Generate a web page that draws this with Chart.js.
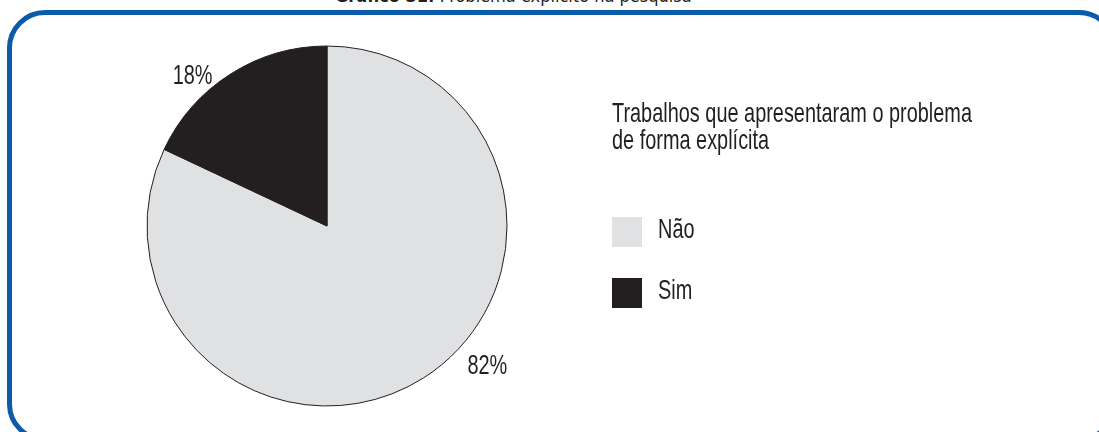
<!DOCTYPE html>
<html lang="pt-BR">
<head>
<meta charset="utf-8">
<title>Gráfico 31: Problema explícito na pesquisa</title>
<script src="https://cdn.jsdelivr.net/npm/chart.js@4/dist/chart.umd.min.js"></script>
<style>
  html, body { margin: 0; padding: 0; background: #fff; overflow: hidden; }
  body { width: 1099px; height: 432px; position: relative; font-family: "Liberation Sans", Arial, sans-serif; color: #231f20; }
  #titulo { position: absolute; left: 335px; top: -13px; font-size: 18px; line-height: 18px; white-space: nowrap; font-family: "DejaVu Sans Condensed", sans-serif; }
  #titulo b { font-weight: bold; }
  #moldura { position: absolute; left: 7px; top: 10px; width: 1100px; height: 422px; border: 5px solid #0b5ba8; border-radius: 38px; }
  #wrap { position: absolute; left: 0; top: 0; width: 1099px; height: 432px; }
</style>
</head>
<body>
<div id="titulo"><b>Gráfico 31:</b> Problema explícito na pesquisa</div>
<div id="moldura"></div>
<div id="wrap"><canvas id="grafico"></canvas></div>
<script>
// dados
const categorias = ["Não", "Sim"];
const valores = [82, 18];
const cores = ["#e0e1e3", "#231f20"];
const tituloLegenda = ["Trabalhos que apresentaram o problema", "de forma explícita"];

const fonte = '28px "Liberation Sans", Arial, sans-serif';
let escala = 0.72; // letra condensada: largura ajustada depois de medir

// escreve texto estreito (escala só na horizontal)
function texto(ctx, t, x, y, align) {
  ctx.save();
  ctx.translate(x, y);
  ctx.scale(escala, 1);
  ctx.textAlign = align || "left";
  ctx.fillText(t, 0, 0);
  ctx.restore();
}

// rótulos de porcentagem fora da pizza
const rotulos = {
  id: "rotulos",
  afterDatasetsDraw(chart) {
    const ctx = chart.ctx;
    const meta = chart.getDatasetMeta(0);
    ctx.save();
    ctx.font = fonte;
    ctx.fillStyle = "#231f20";
    ctx.textBaseline = "alphabetic";
    meta.data.forEach((arc, i) => {
      const ang = (arc.startAngle + arc.endAngle) / 2 - 13 * Math.PI / 180;
      const r = arc.outerRadius + 27;
      const px = arc.x + Math.cos(ang) * r + 13;
      const py = arc.y + Math.sin(ang) * r - 7;
      texto(ctx, valores[i] + "%", px, py + 10, "center");
    });
    ctx.restore();
  }
};

// legenda desenhada à direita
const legenda = {
  id: "legenda",
  afterDraw(chart) {
    const ctx = chart.ctx;
    const x = 612;
    ctx.save();
    ctx.font = fonte;
    ctx.fillStyle = "#231f20";
    ctx.textBaseline = "alphabetic";
    tituloLegenda.forEach((linha, i) => texto(ctx, linha, x, 122 + i * 27));
    const ds = chart.data.datasets[0];
    chart.data.labels.forEach((lab, i) => {
      const y = 217 + i * 61;
      ctx.fillStyle = ds.backgroundColor[i];
      ctx.fillRect(x, y, 30, 30);
      ctx.fillStyle = "#231f20";
      texto(ctx, lab, x + 46, y + 21);
    });
    ctx.restore();
  }
};

// mede a primeira linha da legenda para achar a largura condensada
(function () {
  const c = document.createElement("canvas").getContext("2d");
  c.font = fonte;
  const w = c.measureText(tituloLegenda[0]).width;
  if (w > 0) escala = 360 / w;
})();

new Chart(document.getElementById("grafico"), {
  type: "pie",
  data: {
    labels: categorias,
    datasets: [{
      data: valores,
      backgroundColor: cores,
      borderColor: "#231f20",
      borderWidth: 1
    }]
  },
  options: {
    responsive: true,
    maintainAspectRatio: false,
    animation: false,
    radius: 180,
    layout: { padding: { left: 147, right: 592, top: 46, bottom: 26 } },
    plugins: {
      legend: { display: false },
      tooltip: { enabled: false }
    }
  },
  plugins: [rotulos, legenda]
});
</script>
</body>
</html>
